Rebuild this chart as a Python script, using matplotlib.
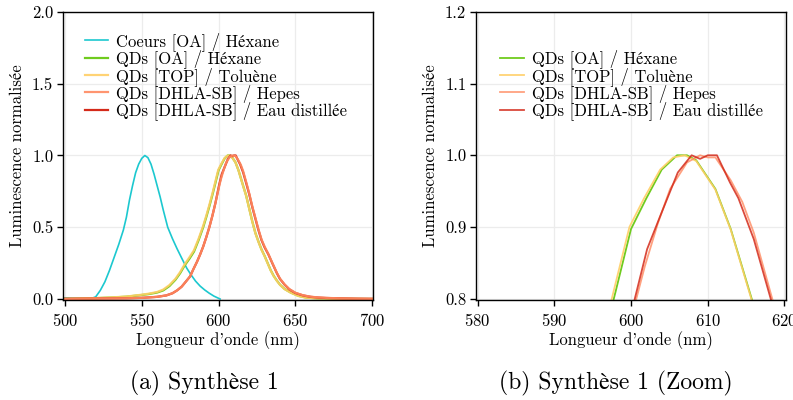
import matplotlib
matplotlib.use("Agg")
import matplotlib.pyplot as plt

plt.rcParams['font.family'] = ['cmr10', 'STIXGeneral', 'DejaVu Serif']
plt.rcParams['mathtext.fontset'] = 'cm'
plt.rcParams['axes.formatter.use_mathtext'] = True

# ---------------- data ----------------
coeurs_x = [500, 505, 510, 515, 517, 520, 523, 526, 529, 532, 535, 538, 540, 542, 544, 546,
            548, 550, 552, 554, 556, 558, 560, 562, 564, 566.9, 570, 573, 576, 579.3, 582,
            585, 588, 591, 594, 597, 601]
coeurs_y = [0.008, 0.005, 0.004, 0.003, 0.003, 0.015, 0.06, 0.12, 0.2, 0.29, 0.38, 0.48, 0.57,
            0.69, 0.79, 0.88, 0.94, 0.98, 1.0, 0.985, 0.94, 0.87, 0.79, 0.71, 0.62, 0.5, 0.42,
            0.35, 0.285, 0.215, 0.17, 0.125, 0.09, 0.063, 0.04, 0.02, 0.0]

oa_x = [500, 510, 520, 530, 540, 550, 555, 560, 564, 568, 572, 575, 578, 581, 584, 587, 590,
        592, 594, 596, 598, 600, 602, 604, 606, 607.3, 608.5, 611, 613, 616, 618, 620, 622,
        624, 626, 628, 630, 632, 634, 636, 638, 640, 643, 647, 652, 657, 665, 680, 700]
oa_y = [0.001, 0.003, 0.006, 0.01, 0.016, 0.028, 0.035, 0.045, 0.06, 0.09, 0.135, 0.18, 0.235,
        0.28, 0.33, 0.41, 0.5, 0.57, 0.645, 0.725, 0.81, 0.897, 0.94, 0.98, 1.0, 1.0, 0.993,
        0.953, 0.897, 0.79, 0.72, 0.63, 0.54, 0.46, 0.4, 0.345, 0.3, 0.25, 0.2, 0.16, 0.128,
        0.1, 0.07, 0.045, 0.022, 0.01, 0.004, 0.001, 0.0]

top_x = [500, 510, 520, 530, 540, 550, 555, 560, 564, 568, 572, 575, 578, 581, 584, 587, 590,
         592, 594, 596, 597.5, 599.8, 601.7, 603.8, 605.5, 607, 608.5, 611, 613, 616, 618, 620,
         622, 624, 626, 628, 630, 632, 634, 636, 638, 640, 643, 647, 652, 657, 665, 680, 700]
top_y = [0.001, 0.003, 0.006, 0.011, 0.017, 0.03, 0.038, 0.049, 0.066, 0.097, 0.142, 0.188,
         0.243, 0.29, 0.34, 0.42, 0.51, 0.58, 0.655, 0.735, 0.8, 0.9, 0.94, 0.98, 0.997, 1.0,
         0.992, 0.952, 0.896, 0.788, 0.718, 0.628, 0.538, 0.458, 0.398, 0.343, 0.298, 0.248,
         0.198, 0.158, 0.126, 0.099, 0.069, 0.044, 0.021, 0.009, 0.004, 0.001, 0.0]

hepes_x = [500, 520, 540, 550, 560, 566, 570, 573, 576, 579, 581.5, 583.5, 586, 588, 590, 592,
           594, 596, 598, 600.7, 601.8, 603.5, 605.1, 607.3, 609, 610, 611, 613, 614.5, 616,
           618.4, 620, 622, 624, 626, 628, 630, 632.5, 635, 638, 640, 643, 646, 650, 655, 660,
           665, 670, 680, 690, 700]
hepes_y = [0.001, 0.003, 0.005, 0.008, 0.015, 0.025, 0.04, 0.06, 0.086, 0.125, 0.158, 0.205,
           0.26, 0.31, 0.365, 0.43, 0.5, 0.58, 0.67, 0.8, 0.845, 0.905, 0.953, 0.99, 1.0, 0.997,
           0.997, 0.965, 0.935, 0.892, 0.8, 0.735, 0.645, 0.565, 0.485, 0.415, 0.365, 0.312,
           0.252, 0.182, 0.142, 0.102, 0.07, 0.044, 0.026, 0.016, 0.011, 0.008, 0.004, 0.002,
           0.001]

eau_x = [500, 520, 540, 550, 560, 566, 570, 573, 576, 579, 581.5, 583.5, 586, 588, 590, 592,
         594, 596, 598, 600.5, 602.1, 603.8, 606.1, 607.9, 609, 610, 611.2, 612.9, 614, 616,
         618.2, 620, 622, 624, 626, 628, 630, 632.5, 635, 638, 640, 643, 646, 650, 655, 660,
         665, 670, 680, 690, 700]
eau_y = [0.001, 0.003, 0.005, 0.008, 0.015, 0.025, 0.04, 0.06, 0.086, 0.125, 0.158, 0.205,
         0.26, 0.31, 0.365, 0.43, 0.5, 0.58, 0.67, 0.8, 0.869, 0.915, 0.976, 1.0, 0.995, 1.0,
         1.0, 0.962, 0.94, 0.883, 0.8, 0.73, 0.64, 0.56, 0.48, 0.41, 0.36, 0.31, 0.25, 0.18,
         0.14, 0.1, 0.068, 0.042, 0.025, 0.015, 0.01, 0.007, 0.004, 0.002, 0.001]

labels = ["Coeurs [OA] / Héxane", "QDs [OA] / Héxane", "QDs [TOP] / Toluène",
          "QDs [DHLA-SB] / Hepes", "QDs [DHLA-SB] / Eau distillée"]
colors = ['#1cc8cf', '#6fcb1e', '#ffcf66', '#ff8a60', '#d42a1a']

xticks_a = [500, 550, 600, 650, 700]
yticks_a = [0.0, 0.5, 1.0, 1.5, 2.0]
xticks_b = [580, 590, 600, 610, 620]
yticks_b = [0.8, 0.9, 1.0, 1.1, 1.2]

FS = 12

# ---------------- figure ----------------
fig = plt.figure(figsize=(7.93, 4.0), dpi=100)
ax1 = fig.add_axes([63/793, 1-300/400, 310/793, 288/400])
ax2 = fig.add_axes([476/793, 1-300/400, 310/793, 288/400])

def style(ax):
    ax.grid(True, color='#ececec', lw=0.9)
    ax.set_axisbelow(True)
    for s in ax.spines.values():
        s.set_linewidth(1.0)
        s.set_color('black')
    ax.tick_params(direction='out', length=4, width=1.0, labelsize=FS,
                   top=False, right=False)
    ax.tick_params(axis='x', pad=5)
    ax.tick_params(axis='y', pad=3)
    ax.set_xlabel("Longueur d'onde (nm)", fontsize=FS, labelpad=1)
    ax.set_ylabel("Luminescence normalisée", fontsize=FS, labelpad=5)

# left panel
ax1.plot(coeurs_x, coeurs_y, color=colors[0], lw=1.2, label=labels[0])
ax1.plot(oa_x, oa_y, color=colors[1], lw=1.6, label=labels[1])
ax1.plot(top_x, top_y, color=colors[2], lw=1.6, alpha=0.9, label=labels[2])
ax1.plot(eau_x, eau_y, color=colors[4], lw=1.6, label=labels[4], zorder=2.1)
ax1.plot(hepes_x, hepes_y, color=colors[3], lw=1.6, alpha=0.9, label=labels[3], zorder=2.2)
ax1.set_xlim(498.7, 700.6)
ax1.set_ylim(-0.007, 2.0)
ax1.set_xticks(xticks_a)
ax1.set_yticks(yticks_a)
ax1.set_yticklabels([f"{v:.1f}" for v in yticks_a])
style(ax1)
h, l = ax1.get_legend_handles_labels()
order = [0, 1, 2, 4, 3]
ax1.legend([h[i] for i in order], [l[i] for i in order], loc='upper left',
           bbox_to_anchor=(0.071, 0.93), frameon=False, fontsize=FS,
           handlelength=1.4, handletextpad=0.48, labelspacing=-0.09, borderpad=0,
           borderaxespad=0)

# right panel
ax2.plot(oa_x, oa_y, color=colors[1], lw=1.3, label=labels[1])
ax2.plot(top_x, top_y, color=colors[2], lw=1.3, alpha=0.9, label=labels[2])
ax2.plot(hepes_x, hepes_y, color=colors[3], lw=1.3, alpha=0.8, label=labels[3])
ax2.plot(eau_x, eau_y, color=colors[4], lw=1.3, alpha=0.85, label=labels[4])
ax2.set_xlim(579.8, 620.2)
ax2.set_ylim(0.798, 1.2)
ax2.set_xticks(xticks_b)
ax2.set_yticks(yticks_b)
ax2.set_yticklabels([f"{v:.1f}" for v in yticks_b])
style(ax2)
ax2.legend(loc='upper left', bbox_to_anchor=(0.078, 0.87), frameon=False, fontsize=FS,
           handlelength=1.4, handletextpad=0.48, labelspacing=-0.09, borderpad=0,
           borderaxespad=0)

fig.text(204/793, 1-383/400, "(a) Synthèse 1", ha='center', va='center', fontsize=17)
fig.text(616/793, 1-383/400, "(b) Synthèse 1 (Zoom)", ha='center', va='center', fontsize=17)

fig.savefig("out.png", dpi=100)
